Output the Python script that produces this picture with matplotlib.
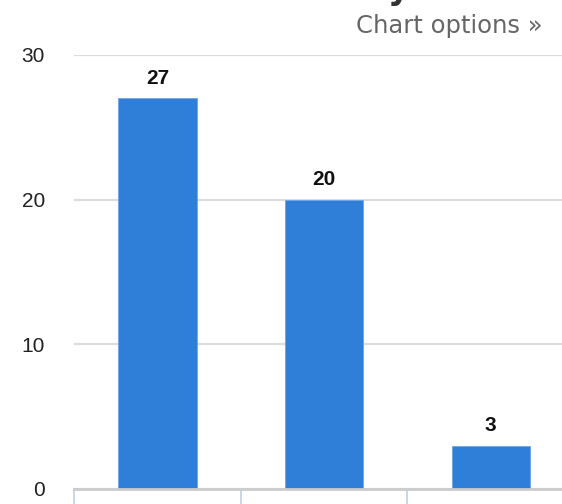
import matplotlib
matplotlib.use("Agg")
import matplotlib.pyplot as plt
import numpy as np

categories = ["A", "B", "C"]
values = [27, 20, 3]
yticks = [0, 10, 20, 30]

W, H = 562, 504
fig = plt.figure(figsize=(W / 100, H / 100), dpi=100)

# plot area runs past the right edge (chart is cropped)
left, right = 74, 574
bottom, top = 489, 55
ax = fig.add_axes([left / W, 1 - bottom / H, (right - left) / W, (bottom - top) / H])

x = np.arange(len(categories))
ax.bar(x, values, width=0.47, color="#2f7ed8", edgecolor="#6fa6e6", linewidth=0.6, zorder=3)
for xi, v in zip(x, values):
    ax.text(xi, v + 1.0, str(v), ha="center", va="baseline", fontsize=15,
            fontweight="bold", color="#111111",
            family=["Liberation Sans Narrow", "Liberation Sans"])

ax.set_xlim(-0.5, len(categories) - 0.5)
ax.set_ylim(0, 30)
ax.set_yticks(yticks)
ax.set_yticklabels([str(t) for t in yticks], fontsize=15, color="#222222", family="Liberation Sans")
ax.tick_params(axis="y", length=0, pad=21)
ax.set_xticks([])
ax.grid(axis="y", color="#dcdcdc", linewidth=1.6, zorder=0)
for s in ["top", "right", "left"]:
    ax.spines[s].set_visible(False)
ax.spines["bottom"].set_color("#cccccc")
ax.spines["bottom"].set_linewidth(2)
ax.spines["bottom"].set_zorder(4)

# category separators hanging below the axis
for b in np.arange(-0.5, len(categories), 1.0):
    ax.plot([b, b], [0, -1.2], color="#c0d0e0", linewidth=1.2, clip_on=False)

fig.text(543 / W, 1 - 33 / H, "Chart options »", ha="right", va="baseline",
         fontsize=17.5, color="#666666", family="DejaVu Sans")
# cropped title, only a descender visible
fig.text(388 / W, 1 + 1 / H, "y", ha="left", va="baseline", fontsize=24,
         fontweight="bold", color="#333333", family="DejaVu Sans")

fig.savefig("out.png", dpi=100)
